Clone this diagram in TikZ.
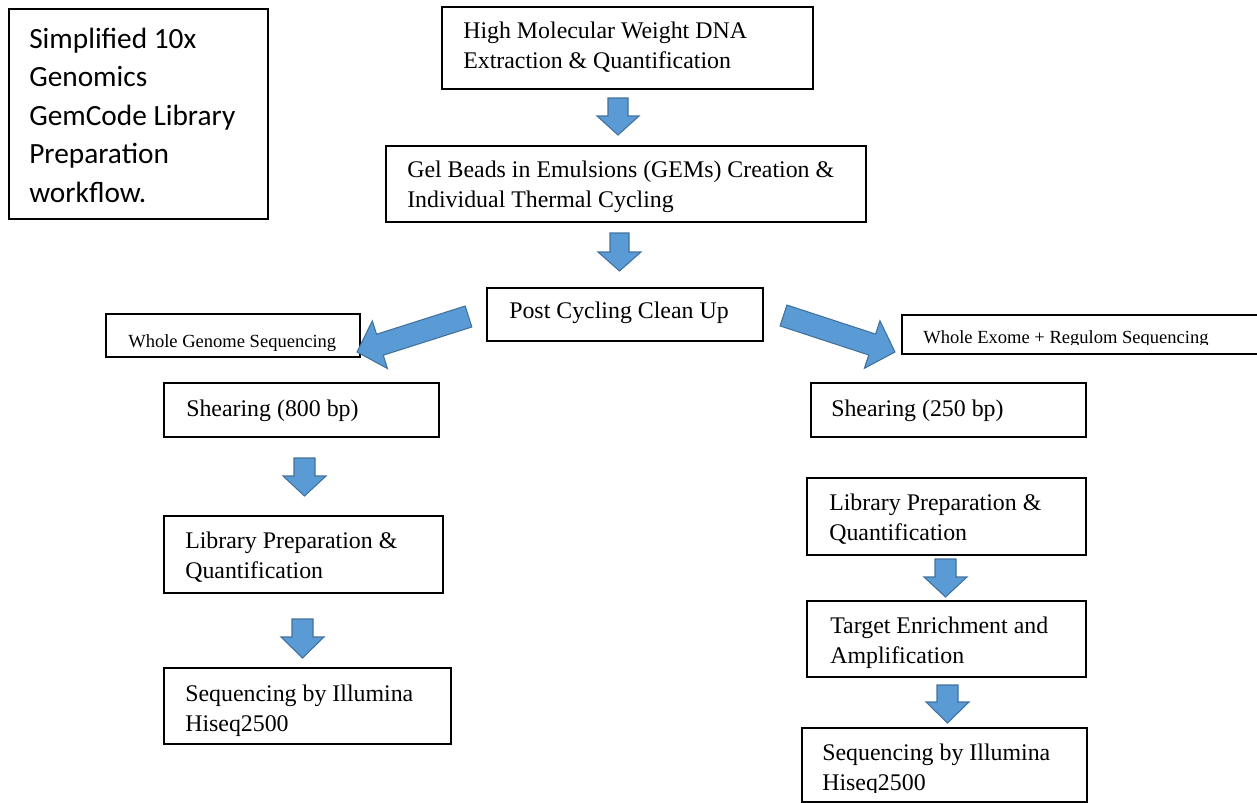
\documentclass[tikz,border=0pt]{standalone}
\usepackage{fontspec}
\setmainfont{Liberation Serif}
\newfontfamily\carlito{Carlito}
\definecolor{arrowblue}{HTML}{5B9BD5}
\definecolor{arrowedge}{HTML}{41719C}
\newcommand\ml[1]{\parbox[t]{14cm}{#1}}
\newcommand\mybox[5]{\node[boxstyle, minimum width={(#4-#2)*0.75pt}, minimum height={(#5-#3)*0.75pt}] (#1) at (#2,#3) {};}
\tikzset{
  boxstyle/.style={draw=black, line width=1.4pt, fill=none, anchor=north west, inner sep=0pt, outer sep=0pt},
  bigtxt/.style={anchor=base west, inner sep=0pt, font=\fontsize{17.9}{22.5}\selectfont},
  smalltxt/.style={anchor=base west, inner sep=0pt, font=\fontsize{13.9}{16}\selectfont},
  titletxt/.style={anchor=base west, inner sep=0pt, font=\carlito\fontsize{22}{28.9}\selectfont},
  arrowstyle/.style={fill=arrowblue, draw=arrowedge, line width=0.8pt, line join=miter},
  pics/barrow/.style n args={4}{code={
    \filldraw[arrowstyle] (0,-#2) -- ({#1-#4},-#2) -- ({#1-#4},-#3) -- (#1,0)
      -- ({#1-#4},#3) -- ({#1-#4},#2) -- (0,#2) -- cycle;}}
}
\begin{document}
\begin{tikzpicture}[x=0.75pt, y=-0.75pt]
\useasboundingbox (0,0) rectangle (1257,803);

% boxes
\mybox{titlebox}{9}{9}{268}{219}
\mybox{hmw}{442}{7}{813}{89}
\mybox{gem}{386}{146}{866}{222}
\mybox{post}{487}{288}{763}{341}
\mybox{wgs}{106}{314}{360}{357}
\mybox{wes}{902}{315}{1264}{354}
\mybox{shearA}{164}{383}{439}{437}
\mybox{shearB}{811}{383}{1086}{437}
\mybox{libA}{164}{516}{443}{593}
\mybox{libB}{807}{478}{1086}{555}
\mybox{seqA}{164}{668}{451}{744}
\mybox{target}{807}{601}{1086}{677}
\mybox{seqB}{802}{728}{1087}{802}

% texts
\node[titletxt] (ttitle) at (29,48) {\ml{Simplified 10x\\Genomics\\GemCode Library\\Preparation\\workflow.}};
\node[bigtxt] (thmw) at (463,38) {\ml{High Molecular Weight DNA\\Extraction \& Quantification}};
\node[bigtxt] (tgem) at (407,177) {\ml{Gel Beads in Emulsions (GEMs) Creation \&\\Individual Thermal Cycling}};
\node[bigtxt] (tpost) at (509,318) {Post Cycling Clean Up};
\node[smalltxt] (twgs) at (128,347) {Whole Genome Sequencing};
\begin{scope}
  \clip (902,315) rectangle (1264,344.5);
  \node[smalltxt] (twes) at (923,343) {Whole Exome + Regulom Sequencing};
\end{scope}
\node[bigtxt] (tshearA) at (186,416) {Shearing (800 bp)};
\node[bigtxt] (tshearB) at (831,416) {Shearing (250 bp)};
\node[bigtxt] (tlibA) at (185,548) {\ml{Library Preparation \&\\Quantification}};
\node[bigtxt] (tlibB) at (829,510) {\ml{Library Preparation \&\\Quantification}};
\node[bigtxt] (tseqA) at (185,701) {\ml{Sequencing by Illumina\\Hiseq2500}};
\node[bigtxt] (ttarget) at (830,633) {\ml{Target Enrichment and\\Amplification}};
\begin{scope}
  \clip (802,728) rectangle (1087,792.5);
  \node[bigtxt] (tseqB) at (822,760) {\ml{Sequencing by Illumina\\Hiseq2500}};
\end{scope}

% block arrows
\pic[rotate=-90] at (618,98) {barrow={37}{10}{21}{19}};
\pic[rotate=-90] at (619.5,233) {barrow={38}{9.5}{21.5}{19}};
\pic[rotate=197.66] at (468.5,316.5) {barrow={117}{11}{25}{24}};
\pic[rotate=-18.13] at (783.5,315.5) {barrow={117.3}{11}{25}{24}};
\pic[rotate=-90] at (304.5,458) {barrow={38}{10.5}{21.5}{20}};
\pic[rotate=-90] at (302.5,619) {barrow={39}{10.5}{21.5}{21}};
\pic[rotate=-90] at (945.5,559) {barrow={38}{10.5}{21.5}{20}};
\pic[rotate=-90] at (947.5,685) {barrow={38}{10.5}{21.5}{21}};
\end{tikzpicture}
\end{document}
